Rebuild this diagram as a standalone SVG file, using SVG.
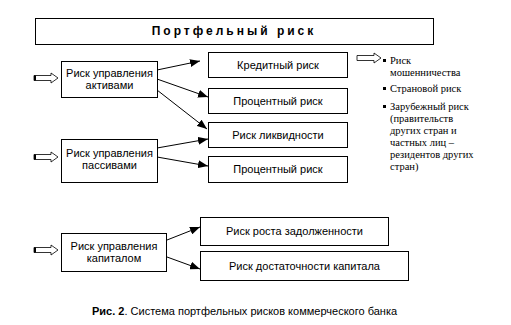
<svg xmlns="http://www.w3.org/2000/svg" width="511" height="325" viewBox="0 0 511 325">
<style>
.box{fill:#fff;stroke:#000;stroke-width:1}
.t{font-family:"Liberation Sans",Arial,sans-serif;font-size:11px;fill:#000;text-anchor:middle}
.s{font-family:"Liberation Serif","Times New Roman",serif;font-size:10.5px;fill:#000}
.ln{stroke:#000;stroke-width:1;fill:none;marker-end:url(#ah)}
.blk{fill:#fff;stroke:#000;stroke-width:0.8}
</style>
<defs>
<marker id="ah" markerWidth="10" markerHeight="8" refX="10" refY="4" orient="auto" markerUnits="userSpaceOnUse">
<path d="M0,0 L10,4 L0,8 Z" fill="#000"/>
</marker>
<g id="barrow">
<path class="blk" d="M0,-2.5 L17,-2.5 L17,-5 L24,0 L17,5 L17,2.5 L0,2.5 Z"/>
<rect x="0" y="-2.5" width="2" height="5" fill="#000"/>
</g>
</defs>
<rect width="511" height="325" fill="#fff"/>
<g id="title">
<rect class="box" x="35.5" y="18.5" width="398" height="26"/>
<text x="234" y="35" class="t" style="font-weight:bold;font-size:12px;letter-spacing:3px">Портфельный риск</text>
</g>
<g id="assets">
<rect class="box" x="61.5" y="61.5" width="96" height="36"/>
<text x="109.5" y="77" class="t">Риск управления</text>
<text x="109.5" y="89" class="t">активами</text>
</g>
<g id="liabilities">
<rect class="box" x="61.5" y="139.5" width="96" height="43"/>
<text x="109.5" y="157" class="t">Риск управления</text>
<text x="109.5" y="169" class="t">пассивами</text>
</g>
<g id="capital">
<rect class="box" x="61.5" y="233.5" width="105" height="38"/>
<text x="114" y="250" class="t">Риск управления</text>
<text x="114" y="262" class="t">капиталом</text>
</g>
<g id="credit">
<rect class="box" x="208.5" y="52.5" width="139" height="25"/>
<text x="278" y="69" class="t">Кредитный риск</text>
</g>
<g id="interest1">
<rect class="box" x="208.5" y="88.5" width="139" height="25"/>
<text x="278" y="105" class="t">Процентный риск</text>
</g>
<g id="liquidity">
<rect class="box" x="208.5" y="122.5" width="139" height="25"/>
<text x="278" y="139" class="t">Риск ликвидности</text>
</g>
<g id="interest2">
<rect class="box" x="208.5" y="156.5" width="139" height="26"/>
<text x="278" y="173" class="t">Процентный риск</text>
</g>
<g id="debt">
<rect class="box" x="200.5" y="217.5" width="188" height="28"/>
<text x="294.5" y="235" class="t">Риск роста задолженности</text>
</g>
<g id="adequacy">
<rect class="box" x="200.5" y="251.5" width="208" height="29"/>
<text x="304.5" y="270" class="t">Риск достаточности капитала</text>
</g>
<g id="list">
<rect x="383" y="59" width="3" height="3" fill="#000"/>
<text x="390" y="64" class="s">Риск</text>
<text x="390" y="76" class="s">мошенничества</text>
<rect x="383" y="87" width="3" height="3" fill="#000"/>
<text x="390" y="92" class="s">Страновой риск</text>
<rect x="383" y="105" width="3" height="3" fill="#000"/>
<text x="390" y="110" class="s">Зарубежный риск</text>
<text x="390" y="122" class="s">(правительств</text>
<text x="390" y="134" class="s">других стран и</text>
<text x="390" y="146" class="s">частных лиц –</text>
<text x="390" y="158" class="s">резидентов других</text>
<text x="390" y="170" class="s">стран)</text>
</g>
<g id="connectors">
<use href="#barrow" x="34" y="78"/>
<use href="#barrow" x="34" y="157"/>
<use href="#barrow" x="34" y="250"/>
<path class="blk" d="M357,55.5 L374,55.5 L374,53 L381,58 L374,63 L374,60.5 L357,60.5 Z"/>
<line class="ln" x1="157" y1="70" x2="200" y2="61"/>
<line class="ln" x1="157" y1="79" x2="208" y2="97"/>
<line class="ln" x1="157" y1="90" x2="207" y2="129"/>
<line class="ln" x1="157" y1="148" x2="208" y2="139"/>
<line class="ln" x1="157" y1="157" x2="208" y2="166"/>
<line class="ln" x1="167" y1="240" x2="200" y2="227"/>
<line class="ln" x1="167" y1="257" x2="200" y2="269"/>
</g>
<g id="caption">
<text x="92" y="315" style="font-family:'Liberation Sans',Arial,sans-serif;font-size:11px"><tspan font-weight="bold">Рис. 2</tspan>. Система портфельных рисков коммерческого банка</text>
</g>
</svg>
